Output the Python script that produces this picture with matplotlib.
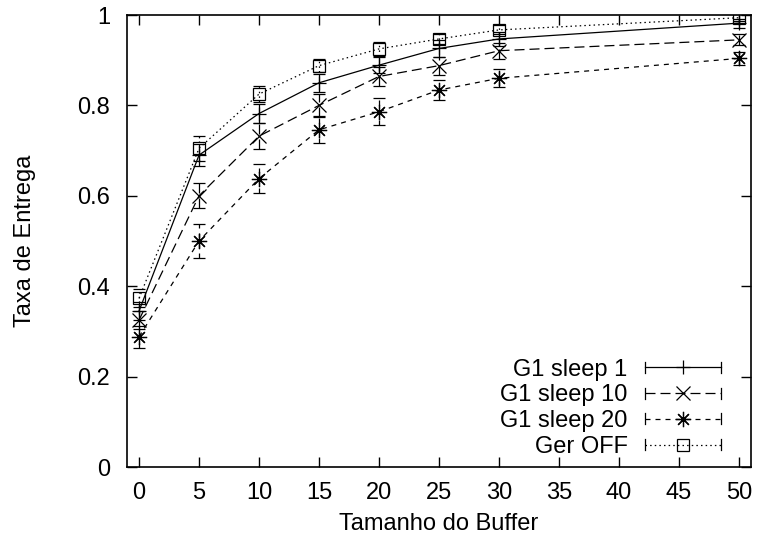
import matplotlib
matplotlib.use("Agg")
import matplotlib.pyplot as plt
from matplotlib.legend_handler import HandlerBase
from matplotlib.lines import Line2D

plt.rcParams['font.family'] = ['Liberation Sans', 'DejaVu Sans']
FS = 17
plt.rcParams['font.size'] = FS

# ---- data ----
buffer_sizes = [0, 5, 10, 15, 20, 25, 30, 50]
xticks = [0, 5, 10, 15, 20, 25, 30, 35, 40, 45, 50]
yticks = [0, 0.2, 0.4, 0.6, 0.8, 1.0]
ytick_labels = ["0", "0.2", "0.4", "0.6", "0.8", "1"]

labels = ["G1 sleep 1", "G1 sleep 10", "G1 sleep 20", "Ger OFF"]

g1_sleep1 = [0.345, 0.690, 0.782, 0.850, 0.889, 0.926, 0.947, 0.982]
g1_sleep1_err = [0.020, 0.025, 0.022, 0.020, 0.018, 0.018, 0.015, 0.010]

g1_sleep10 = [0.325, 0.600, 0.732, 0.800, 0.864, 0.888, 0.921, 0.945]
g1_sleep10_err = [0.020, 0.028, 0.028, 0.025, 0.020, 0.020, 0.018, 0.012]

g1_sleep20 = [0.288, 0.500, 0.638, 0.746, 0.786, 0.834, 0.860, 0.904]
g1_sleep20_err = [0.025, 0.037, 0.032, 0.030, 0.030, 0.023, 0.020, 0.015]

ger_off = [0.373, 0.705, 0.825, 0.888, 0.925, 0.947, 0.967, 0.994]
ger_off_err = [0.020, 0.028, 0.018, 0.015, 0.015, 0.012, 0.010, 0.008]

series = [g1_sleep1, g1_sleep10, g1_sleep20, ger_off]
errors = [g1_sleep1_err, g1_sleep10_err, g1_sleep20_err, ger_off_err]

# ---- styles ----
line_dashes = [None, (8, 4), (4, 4), (1.2, 2.5)]
markers = ['+', 'x', (8, 2, 0), 's']
msizes = [10, 10, 11, 9]

fig = plt.figure(figsize=(7.6, 5.44), dpi=100)
ax = fig.add_axes([127/760, 1 - 467/544, (751-127)/760, (467-15)/544])

lw = 0.9
handles = []
for ys, es, dsh, mk, ms in zip(series, errors, line_dashes, markers, msizes):
    ls = '-' if dsh is None else (0, dsh)
    eb = ax.errorbar(buffer_sizes, ys, yerr=es, color='black', lw=lw,
                     linestyle=ls, marker=mk, markersize=ms,
                     markerfacecolor='none', markeredgecolor='black',
                     markeredgewidth=lw, capsize=4, capthick=lw,
                     elinewidth=lw)
    eb[2][0].set_linestyle(ls)
    h = Line2D([], [], color='black', lw=lw, linestyle=ls, marker=mk,
               markersize=ms, markerfacecolor='none',
               markeredgecolor='black', markeredgewidth=lw)
    handles.append(h)


class HandlerKey(HandlerBase):
    def create_artists(self, legend, orig_handle, xdescent, ydescent,
                       width, height, fontsize, trans):
        y = height / 2 - ydescent
        x0 = -xdescent
        x1 = x0 + width
        line = Line2D([x0, x1], [y, y])
        line.update_from(orig_handle)
        line.set_marker('')
        line.set_transform(trans)
        c = 4.0
        cap1 = Line2D([x0, x0], [y - c, y + c], color='black', lw=lw, transform=trans)
        cap2 = Line2D([x1, x1], [y - c, y + c], color='black', lw=lw, transform=trans)
        mk = Line2D([(x0 + x1) / 2], [y])
        mk.update_from(orig_handle)
        mk.set_linestyle('none')
        mk.set_transform(trans)
        return [line, cap1, cap2, mk]


leg = ax.legend(handles, labels, loc='lower right',
                bbox_to_anchor=(1 - 30/624, 0.02),
                frameon=False, markerfirst=False, handlelength=3.2,
                handletextpad=0.75, labelspacing=0.16, borderpad=0,
                borderaxespad=0, fontsize=FS,
                handler_map={Line2D: HandlerKey()})

ax.set_xlim(-1, 51)
ax.set_ylim(0, 1)
ax.set_xticks(xticks)
ax.set_yticks(yticks)
ax.set_yticklabels(ytick_labels)
ax.tick_params(direction='in', length=7, width=1, top=True, right=True,
               labelsize=FS)
ax.tick_params(axis='x', pad=11)
ax.tick_params(axis='y', pad=12)
for sp in ax.spines.values():
    sp.set_linewidth(1.2)

ax.set_xlabel("Tamanho do Buffer", fontsize=FS)
ax.xaxis.set_label_coords(0.5, -(513 - 467) / 452)
ax.set_ylabel("Taxa de Entrega", fontsize=FS)
ax.yaxis.set_label_coords((36 - 127) / 624, 0.5)

fig.savefig("out.png", dpi=100)
